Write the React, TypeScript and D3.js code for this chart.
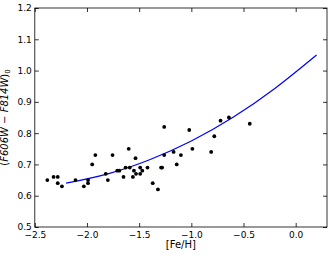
import { useEffect, useRef } from "react"
import * as d3 from "d3"

const W = 332
const H = 256

// cluster points
const feh = [
  -2.38, -2.32, -2.28, -2.28, -2.24, -2.11, -2.03, -1.99, -1.99, -1.95, -1.92, -1.82, -1.8, -1.755, -1.71,
  -1.69, -1.65, -1.63, -1.6, -1.59, -1.56, -1.55, -1.535, -1.53, -1.49, -1.49, -1.47, -1.42, -1.37, -1.32,
  -1.29, -1.28, -1.26, -1.26, -1.17, -1.14, -1.1, -1.02, -0.99, -0.81, -0.78, -0.72, -0.64, -0.44,
]
const color = [
  0.65, 0.66, 0.66, 0.64, 0.63, 0.65, 0.63, 0.64, 0.65, 0.7, 0.73, 0.67, 0.65, 0.73, 0.68,
  0.68, 0.66, 0.69, 0.75, 0.69, 0.66, 0.68, 0.72, 0.67, 0.69, 0.67, 0.68, 0.69, 0.64, 0.62,
  0.69, 0.69, 0.73, 0.82, 0.74, 0.7, 0.73, 0.81, 0.75, 0.74, 0.79, 0.84, 0.85, 0.83,
]

// fitted relation, sampled from the blue curve
const fitFeh = [-2.2, -1.8, -1.4, -1.0, -0.6, -0.2, 0.2]
const fitColor = [0.64, 0.67, 0.715, 0.775, 0.851, 0.943, 1.05]

const xTicks = [-2.5, -2.0, -1.5, -1.0, -0.5, 0.0]
const yTicks = [0.5, 0.6, 0.7, 0.8, 0.9, 1.0, 1.1, 1.2]

export default function App() {
  const svgRef = useRef<SVGSVGElement | null>(null)

  useEffect(() => {
    if (!svgRef.current) return
    const svg = d3.select(svgRef.current)
    svg.selectAll("*").remove()

    const margin = { top: 8, right: 5, bottom: 29, left: 34.8 }
    const iw = W - margin.left - margin.right
    const ih = H - margin.top - margin.bottom

    const x = d3.scaleLinear().domain([-2.5, 0.3]).range([0, iw])
    const y = d3.scaleLinear().domain([0.5, 1.2]).range([ih, 0])

    const g = svg.append("g").attr("transform", `translate(${margin.left},${margin.top})`)

    const font = "DejaVu Sans, sans-serif"
    const tickLen = 4

    const styleAxis = (sel: d3.Selection<SVGGElement, unknown, null, undefined>, hideText = false) => {
      sel.select(".domain").remove()
      sel.selectAll(".tick line").attr("stroke", "#000").attr("stroke-width", 0.8)
      sel.selectAll(".tick text").attr("fill", "#000").style("font-family", font).style("font-size", "9px")
      if (hideText) sel.selectAll(".tick text").remove()
    }

    const fmtX = d3.format(".1f")
    g.append("g")
      .attr("transform", `translate(0,${ih})`)
      .call(d3.axisBottom(x).tickValues(xTicks).tickSize(-tickLen).tickPadding(5).tickFormat((d) => fmtX(d as number)))
      .call((s) => styleAxis(s))
    g.append("g")
      .call(d3.axisTop(x).tickValues(xTicks).tickSize(-tickLen))
      .call((s) => styleAxis(s, true))
    g.append("g")
      .call(d3.axisLeft(y).tickValues(yTicks).tickSize(-tickLen).tickPadding(3).tickFormat(d3.format(".1f")))
      .call((s) => styleAxis(s))
    g.append("g")
      .attr("transform", `translate(${iw},0)`)
      .call(d3.axisRight(y).tickValues(yTicks).tickSize(-tickLen))
      .call((s) => styleAxis(s, true))

    // frame
    g.append("rect")
      .attr("width", iw)
      .attr("height", ih)
      .attr("fill", "none")
      .attr("stroke", "#000")
      .attr("stroke-width", 0.8)

    const line = d3
      .line<number>()
      .x((_, i) => x(fitFeh[i]))
      .y((d) => y(d))
      .curve(d3.curveNatural)
    g.append("path")
      .datum(fitColor)
      .attr("d", line)
      .attr("fill", "none")
      .attr("stroke", "#0000ff")
      .attr("stroke-width", 1.2)

    g.selectAll("circle.pt")
      .data(feh)
      .join("circle")
      .attr("class", "pt")
      .attr("cx", (d) => x(d))
      .attr("cy", (_, i) => y(color[i]))
      .attr("r", 1.9)
      .attr("fill", "#000")

    g.append("text")
      .attr("x", iw / 2)
      .attr("y", ih + 21)
      .attr("text-anchor", "middle")
      .style("font-family", font)
      .style("font-size", "10px")
      .attr("fill", "#000")
      .text("[Fe/H]")

    const yl = g
      .append("text")
      .attr("transform", `translate(${-27},${ih / 2}) rotate(-90)`)
      .attr("text-anchor", "middle")
      .style("font-family", font)
      .style("font-size", "10px")
      .attr("fill", "#000")
    yl.append("tspan").text("(")
    yl.append("tspan").style("font-style", "italic").text("F606W")
    yl.append("tspan").text(" \u2212 ")
    yl.append("tspan").style("font-style", "italic").text("F814W")
    yl.append("tspan").text(")")
    yl.append("tspan").attr("dy", 2.5).style("font-size", "7px").text("0")
  }, [])

  return <svg ref={svgRef} width={W} height={H} style={{ position: "absolute", left: 0, top: 0, background: "#fff" }} />
}
